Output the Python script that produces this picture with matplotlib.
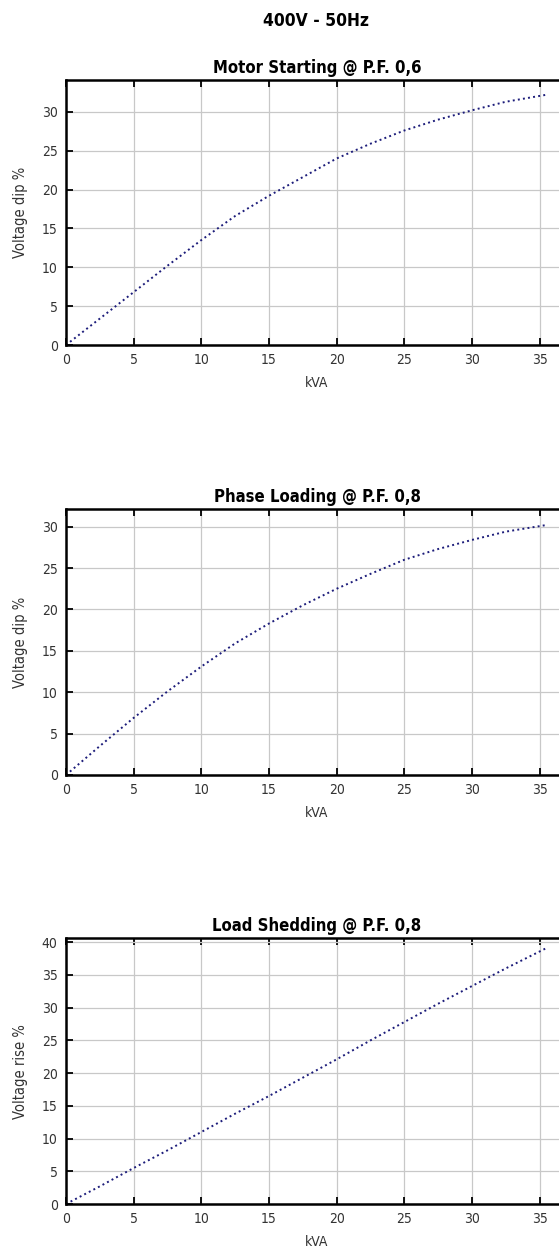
import matplotlib
matplotlib.use("Agg")
import matplotlib.pyplot as plt

plt.rcParams['font.family'] = ['DejaVu Sans']
plt.rcParams['font.stretch'] = 'condensed'

# Data
kva = [0, 2.5, 5, 7.5, 10, 12.5, 15, 17.5, 20, 22.5, 25, 27.5, 30, 32.5, 35.5]
motor_starting = [0, 3.4, 6.8, 10.2, 13.5, 16.6, 19.2, 21.6, 24.0, 25.9, 27.6, 29.0, 30.2, 31.3, 32.2]
phase_loading = [0, 3.5, 6.9, 10.1, 13.1, 15.9, 18.3, 20.5, 22.5, 24.3, 26.0, 27.3, 28.4, 29.4, 30.2]
load_shedding = [0, 2.7, 5.5, 8.2, 11.0, 13.8, 16.5, 19.3, 22.1, 25.0, 27.8, 30.6, 33.3, 36.0, 39.1]

suptitle = "400V - 50Hz"
titles = ["Motor Starting @ P.F. 0,6", "Phase Loading @ P.F. 0,8", "Load Shedding @ P.F. 0,8"]
ylabels = ["Voltage dip %", "Voltage dip %", "Voltage rise %"]
series = [motor_starting, phase_loading, load_shedding]
ylims = [34.1, 32.1, 40.6]
yticks = [[0, 5, 10, 15, 20, 25, 30], [0, 5, 10, 15, 20, 25, 30], [0, 5, 10, 15, 20, 25, 30, 35, 40]]
xticks = [0, 5, 10, 15, 20, 25, 30, 35]

W, H = 559, 1251
fig = plt.figure(figsize=(W / 100, H / 100), dpi=100)

boxes = [(80, 345), (509.3, 775), (938.3, 1204)]
left_px, right_px = 66, 568

fig.text(316 / W, 1 - 21 / H, suptitle, ha='center', va='center',
         fontsize=12.5, fontweight='bold', color='black')

for (top, bot), title, ylab, ys, ylim, yt in zip(boxes, titles, ylabels, series, ylims, yticks):
    ax = fig.add_axes([left_px / W, 1 - bot / H, (right_px - left_px) / W, (bot - top) / H])
    ax.plot(kva, ys, linestyle=':', color='#1c1c7a', linewidth=1.4)
    ax.set_xlim(0, 37.1)
    ax.set_ylim(0, ylim)
    ax.set_xticks(xticks)
    ax.set_yticks(yt)
    ax.grid(True, color='#c8c8c8', linewidth=0.9)
    ax.set_axisbelow(True)
    ax.tick_params(direction='in', length=5, width=1.3, top=True, right=False,
                   labelsize=10, labelcolor='#333333', color='black')
    ax.tick_params(axis='x', pad=6)
    ax.tick_params(axis='y', pad=6)
    for s in ['top', 'bottom', 'left']:
        ax.spines[s].set_linewidth(1.8)
    ax.spines['right'].set_visible(False)
    ax.set_title(title, fontsize=12, fontweight='bold', pad=5)
    ax.set_xlabel("kVA", fontsize=10, color='#333333', labelpad=6)
    ax.set_ylabel(ylab, fontsize=10.5, color='#333333', labelpad=10)

fig.savefig("out.png", dpi=100)
